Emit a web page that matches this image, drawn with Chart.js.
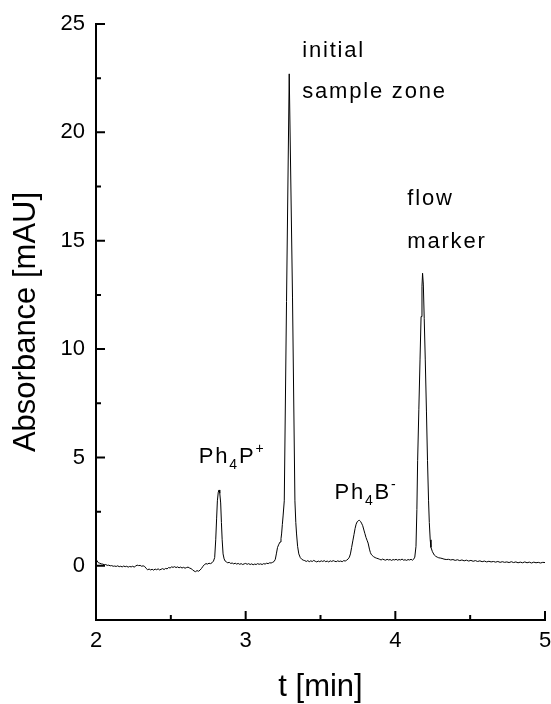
<!DOCTYPE html>
<html><head><meta charset="utf-8">
<script src="https://cdn.jsdelivr.net/npm/chart.js@4/dist/chart.umd.min.js"></script>
<style>html,body{margin:0;padding:0;background:#fff}#wrap{width:551px;height:704px;position:relative}</style>
</head><body><div id="wrap"><canvas id="c" width="551" height="704"></canvas></div>
<script>
// time [min]
const times = [
2.000,2.008,2.016,2.025,2.035,2.045,2.055,2.065,2.075,2.085,2.095,2.105,2.115,2.125,2.135,2.145,2.155,2.165,2.175,2.185,
2.195,2.205,2.215,2.225,2.235,2.245,2.255,2.265,2.275,2.285,2.295,2.305,2.315,2.325,2.335,2.345,2.355,2.365,2.375,2.385,
2.395,2.405,2.415,2.425,2.435,2.445,2.455,2.465,2.475,2.485,2.495,2.505,2.515,2.525,2.535,2.545,2.555,2.565,2.575,2.585,
2.595,2.605,2.615,2.625,2.635,2.645,2.655,2.665,2.675,2.685,2.695,2.705,2.715,2.725,2.735,2.745,2.755,2.765,2.775,2.785,
2.793,2.800,2.806,2.811,2.817,2.822,2.827,2.833,2.838,2.843,2.849,2.856,2.863,2.871,2.880,2.890,2.900,2.910,2.920,2.930,
2.940,2.950,2.960,2.970,2.980,2.990,3.000,3.010,3.020,3.030,3.040,3.050,3.060,3.070,3.080,3.090,3.100,3.110,3.120,3.130,
3.140,3.150,3.160,3.170,3.180,3.190,3.198,3.205,3.213,3.222,3.230,3.236,3.240,3.245,3.250,3.258,3.273,3.291,3.313,3.329,
3.335,3.340,3.347,3.355,3.365,3.375,3.385,3.395,3.405,3.415,3.425,3.435,3.445,3.455,3.465,3.475,3.485,3.495,3.505,3.515,
3.525,3.535,3.545,3.555,3.565,3.575,3.585,3.595,3.605,3.615,3.625,3.635,3.645,3.655,3.665,3.675,3.685,3.693,3.700,3.708,
3.716,3.724,3.731,3.738,3.745,3.752,3.760,3.767,3.774,3.782,3.790,3.797,3.804,3.811,3.818,3.827,3.833,3.838,3.845,3.855,
3.865,3.875,3.885,3.895,3.905,3.915,3.925,3.935,3.945,3.955,3.965,3.975,3.985,3.995,4.005,4.015,4.025,4.035,4.045,4.055,
4.065,4.075,4.085,4.095,4.105,4.115,4.122,4.130,4.138,4.144,4.149,4.157,4.165,4.172,4.178,4.182,4.187,4.193,4.200,4.208,
4.215,4.222,4.227,4.233,4.238,4.248,4.260,4.270,4.280,4.290,4.300,4.312,4.325,4.340,4.355,4.370,4.385,4.400,4.415,4.430,
4.445,4.460,4.475,4.490,4.505,4.520,4.535,4.550,4.565,4.580,4.595,4.610,4.625,4.640,4.655,4.670,4.685,4.700,4.715,4.730,
4.745,4.760,4.775,4.790,4.805,4.820,4.835,4.850,4.865,4.880,4.895,4.910,4.925,4.940,4.955,4.970,4.985,5.000
];
// absorbance [mAU]
const absorbance = [
0.30,0.22,0.14,0.12,0.09,0.08,0.05,0.06,0.02,0.03,0.00,0.01,-0.02,-0.01,-0.03,0.00,-0.04,-0.02,-0.05,-0.01,
-0.04,-0.02,-0.06,-0.03,-0.05,-0.02,-0.06,-0.01,0.03,0.01,0.02,-0.02,0.00,-0.03,-0.12,-0.18,-0.15,-0.19,-0.16,-0.20,
-0.15,-0.18,-0.14,-0.19,-0.16,-0.13,-0.17,-0.12,-0.14,-0.08,-0.10,-0.05,-0.07,-0.04,-0.08,-0.05,-0.09,-0.06,-0.10,-0.07,
-0.11,-0.08,-0.06,-0.10,-0.13,-0.18,-0.24,-0.27,-0.22,-0.25,-0.20,-0.12,-0.02,0.06,0.10,0.08,0.12,0.10,0.14,0.22,
0.38,1.2,2.2,3.0,3.4,3.5,3.35,2.9,2.0,1.2,0.55,0.32,0.22,0.18,0.14,0.16,0.11,0.13,0.09,0.12,
0.08,0.11,0.07,0.10,0.06,0.09,0.11,0.07,0.10,0.06,0.09,0.05,0.08,0.06,0.10,0.07,0.09,0.06,0.10,0.08,
0.12,0.10,0.14,0.13,0.16,0.20,0.30,0.55,0.85,1.00,1.10,1.25,1.47,1.9,2.3,3.0,12.2,22.7,12.4,3.0,
2.0,1.47,0.9,0.55,0.38,0.30,0.26,0.24,0.20,0.24,0.19,0.23,0.20,0.25,0.21,0.18,0.22,0.19,0.23,0.20,
0.24,0.19,0.22,0.18,0.23,0.20,0.24,0.21,0.19,0.23,0.20,0.22,0.19,0.24,0.22,0.26,0.32,0.40,0.55,0.85,
1.15,1.45,1.72,1.92,2.03,2.08,2.10,2.05,1.97,1.85,1.65,1.48,1.31,1.18,1.05,0.77,0.62,0.54,0.48,0.42,
0.38,0.35,0.33,0.30,0.27,0.31,0.28,0.26,0.30,0.27,0.29,0.25,0.29,0.27,0.30,0.26,0.29,0.27,0.31,0.26,
0.28,0.25,0.29,0.27,0.30,0.26,0.30,0.40,0.9,2.6,4.85,7.2,9.5,11.5,12.9,13.5,13.0,11.4,9.5,7.1,
4.85,3.0,2.0,1.2,0.85,0.65,0.50,0.44,0.40,0.37,0.36,0.34,0.31,0.29,0.30,0.27,0.29,0.25,0.28,0.24,
0.27,0.23,0.26,0.22,0.25,0.21,0.24,0.20,0.23,0.19,0.22,0.18,0.21,0.18,0.20,0.17,0.20,0.16,0.19,0.16,
0.18,0.15,0.19,0.15,0.18,0.14,0.17,0.14,0.18,0.14,0.17,0.13,0.17,0.14,0.16,0.13,0.16,0.15
];
const xTicks = [2, 3, 4, 5];
const xMinorTicks = [2.5, 3.5, 4.5];
const yTicks = [0, 5, 10, 15, 20, 25];
const yMinorTicks = [-2.5, 2.5, 7.5, 12.5, 17.5, 22.5];
const xTitle = 't [min]';
const yTitle = 'Absorbance [mAU]';
const peakLabels = ['initial', 'sample zone', 'flow', 'marker'];

const FONT = '"Liberation Sans", Arial, Helvetica, sans-serif';

const decor = {
  id: 'decor',
  afterDraw(chart) {
    const { ctx, chartArea: a, scales: { x, y } } = chart;
    ctx.save();
    ctx.strokeStyle = '#000';
    ctx.lineWidth = 2;
    ctx.beginPath();
    xTicks.forEach(v => { const p = x.getPixelForValue(v); ctx.moveTo(p, a.bottom); ctx.lineTo(p, a.bottom - 9); });
    xMinorTicks.forEach(v => { const p = x.getPixelForValue(v); ctx.moveTo(p, a.bottom); ctx.lineTo(p, a.bottom - 5); });
    yTicks.forEach(v => { const p = y.getPixelForValue(v); ctx.moveTo(a.left, p); ctx.lineTo(a.left + 9, p); });
    yMinorTicks.forEach(v => { const p = y.getPixelForValue(v); ctx.moveTo(a.left, p); ctx.lineTo(a.left + 5, p); });
    ctx.stroke();

    ctx.fillStyle = '#000';
    ctx.textBaseline = 'alphabetic';
    ctx.textAlign = 'left';
    ctx.letterSpacing = '1.8px';
    ctx.font = '22px ' + FONT;
    const put = (txt, tx, ty) => ctx.fillText(txt, x.getPixelForValue(tx), y.getPixelForValue(ty));
    put(peakLabels[0], 3.378, 23.48);
    put(peakLabels[1], 3.378, 21.58);
    put(peakLabels[2], 4.08, 16.65);
    put(peakLabels[3], 4.08, 14.67);

    // chemical labels with sub/superscripts
    const chem = (parts, tx, ty) => {
      let px = x.getPixelForValue(tx);
      const py = y.getPixelForValue(ty);
      parts.forEach(([t, kind]) => {
        if (kind === 'n') { ctx.font = '22px ' + FONT; ctx.fillText(t, px, py); }
        else if (kind === 'sub') { ctx.font = '14px ' + FONT; ctx.fillText(t, px, py + 6); }
        else { ctx.font = '14px ' + FONT; ctx.fillText(t, px, py - 10); }
        px += ctx.measureText(t).width;
      });
    };
    chem([['Ph', 'n'], ['4', 'sub'], ['P', 'n'], ['+', 'sup']], 2.687, 4.73);
    chem([['Ph', 'n'], ['4', 'sub'], ['B', 'n'], ['-', 'sup']], 3.593, 3.08);
    ctx.restore();
  }
};

new Chart(document.getElementById('c').getContext('2d'), {
  type: 'scatter',
  data: {
    datasets: [{
      data: times.map((t, i) => ({ x: t, y: absorbance[i] })),
      showLine: true,
      borderColor: '#000',
      borderWidth: 1,
      pointRadius: 0,
      tension: 0
    }]
  },
  options: {
    responsive: false,
    animation: false,
    devicePixelRatio: 1,
    layout: { padding: { left: 0, right: 6, top: 24, bottom: 0 } },
    plugins: { legend: { display: false }, tooltip: { enabled: false } },
    scales: {
      x: {
        type: 'linear', min: 2, max: 5,
        afterBuildTicks: s => { s.ticks = xTicks.map(v => ({ value: v })); },
        afterFit: s => { s.height = 84; s.paddingLeft = 0; s.paddingRight = 0; },
        grid: { display: true, drawOnChartArea: false, drawTicks: false },
        border: { display: true, color: '#000', width: 2 },
        ticks: { color: '#000', padding: 8, maxRotation: 0, font: { family: FONT, size: 22 } },
        title: { display: true, text: xTitle, color: '#000', padding: { top: 0, bottom: 1 }, font: { family: FONT, size: 31, lineHeight: 1 } }
      },
      y: {
        type: 'linear', min: -2.5, max: 25,
        afterBuildTicks: s => { s.ticks = yTicks.map(v => ({ value: v })); },
        afterFit: s => { s.width = 96; s.paddingTop = 0; s.paddingBottom = 0; },
        grid: { display: true, drawOnChartArea: false, drawTicks: false },
        border: { display: true, color: '#000', width: 2 },
        ticks: { color: '#000', padding: 11, font: { family: FONT, size: 22 } },
        title: { display: true, text: yTitle, color: '#000', padding: { top: 11, bottom: 0 }, font: { family: FONT, size: 31, lineHeight: 1 } }
      }
    }
  },
  plugins: [decor]
});
</script>
</body></html>
